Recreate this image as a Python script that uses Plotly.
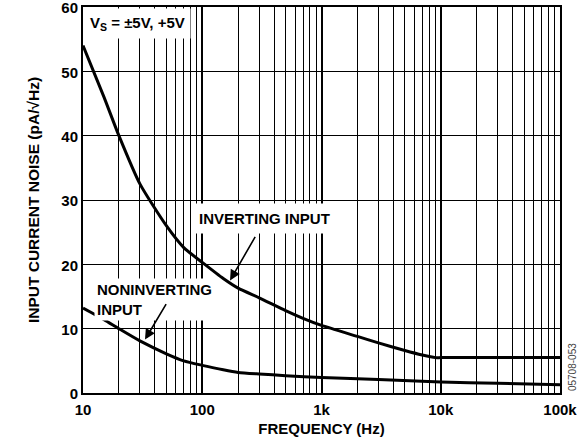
import plotly.graph_objects as go

freq_inv = [10, 15, 20, 30, 50, 70, 100, 150, 200, 300, 500, 700, 1000, 2000, 3000, 5000, 7000, 9000, 10000, 30000, 100000]
noise_inv = [54, 46, 40, 32.5, 26, 22.6, 20.3, 17.8, 16.3, 14.8, 12.8, 11.6, 10.5, 8.8, 7.8, 6.6, 5.9, 5.5, 5.5, 5.5, 5.5]
freq_non = [10, 15, 20, 30, 50, 70, 100, 150, 200, 300, 500, 1000, 3000, 10000, 30000, 100000]
noise_non = [13.2, 11.4, 10.0, 8.1, 6.1, 5.0, 4.3, 3.6, 3.2, 2.95, 2.7, 2.4, 2.1, 1.7, 1.5, 1.3]
x_tickvals = [10, 100, 1000, 10000, 100000]
x_ticktext = ["10", "100", "1k", "10k", "100k"]
y_tickvals = [0, 10, 20, 30, 40, 50, 60]

FONT = "Liberation Sans, Arial, sans-serif"
FS = 15

fig = go.Figure()
for fx, ny in ((freq_inv, noise_inv), (freq_non, noise_non)):
    fig.add_trace(go.Scatter(x=fx, y=ny, mode="lines",
                             line=dict(color="black", width=3, shape="spline", smoothing=0.6),
                             showlegend=False, hoverinfo="skip"))

fig.update_layout(
    width=587, height=447,
    margin=dict(l=83, r=27, t=7, b=54),
    paper_bgcolor="white", plot_bgcolor="white",
    font=dict(family=FONT, color="black", size=FS),
    xaxis=dict(
        type="log", range=[1, 5], automargin=False,
        tickvals=x_tickvals, ticktext=x_ticktext,
        showgrid=True, gridcolor="black", gridwidth=2,
        ticks="", showline=True, linecolor="black", linewidth=2, mirror=True,
        ticklabelstandoff=2,
        tickfont=dict(family=FONT, size=FS, color="black", weight="bold"),
        title=dict(text="<b>FREQUENCY (Hz)</b>", font=dict(family=FONT, size=FS), standoff=6),
        minor=dict(dtick="D1", showgrid=True, gridcolor="black", gridwidth=1, ticks=""),
        zeroline=False,
    ),
    yaxis=dict(
        range=[0, 60], tickvals=y_tickvals, automargin=False,
        showgrid=True, gridcolor="black", gridwidth=1,
        ticks="", showline=True, linecolor="black", linewidth=2, mirror=True,
        ticklabelshift=1, ticklabeloverflow="allow",
        tickfont=dict(family=FONT, size=FS, color="black", weight="bold"),
        title=dict(text="<b>INPUT CURRENT NOISE (pA/√Hz)</b>", font=dict(family=FONT, size=15.5), standoff=18),
        zeroline=False,
    ),
)

# Supply label box
fig.add_annotation(xref="paper", yref="paper", x=0.002, y=0.997, xanchor="left", yanchor="top",
                   text="<b>V<sub>S</sub> = ±5V, +5V</b>", showarrow=False,
                   font=dict(family=FONT, size=FS, color="black"),
                   bgcolor="white", borderpad=5, align="left")

# Curve labels
fig.add_annotation(x=2.518, y=27.2, xref="x", yref="y", text="<b>INVERTING INPUT</b>", showarrow=False,
                   xanchor="center", yanchor="middle", font=dict(family=FONT, size=FS, color="black"),
                   bgcolor="white", borderpad=6)
fig.add_annotation(x=1.09, y=17.9, xref="x", yref="y", text="<b>NONINVERTING<br>INPUT</b>", showarrow=False,
                   xanchor="left", yanchor="top", align="left", font=dict(family=FONT, size=FS, color="black"),
                   bgcolor="white", borderpad=2)

# Arrows
fig.add_annotation(x=2.233, y=17.5, xref="x", yref="y", text="", showarrow=True, ax=26, ay=-45,
                   arrowhead=2, arrowsize=1.3, arrowwidth=1.6, arrowcolor="black")
fig.add_annotation(x=1.52, y=8.3, xref="x", yref="y", text="", showarrow=True, ax=22, ay=-37,
                   arrowhead=2, arrowsize=1.3, arrowwidth=1.6, arrowcolor="black")

# Figure code
fig.add_annotation(xref="paper", yref="paper", x=1.025, y=0.067, text="05708-053", textangle=-90,
                   showarrow=False, xanchor="center", yanchor="middle",
                   font=dict(family=FONT, size=10, color="#444"))

fig.write_html("out.html", config={"displayModeBar": False},
               post_script="document.body.style.margin='0';")
